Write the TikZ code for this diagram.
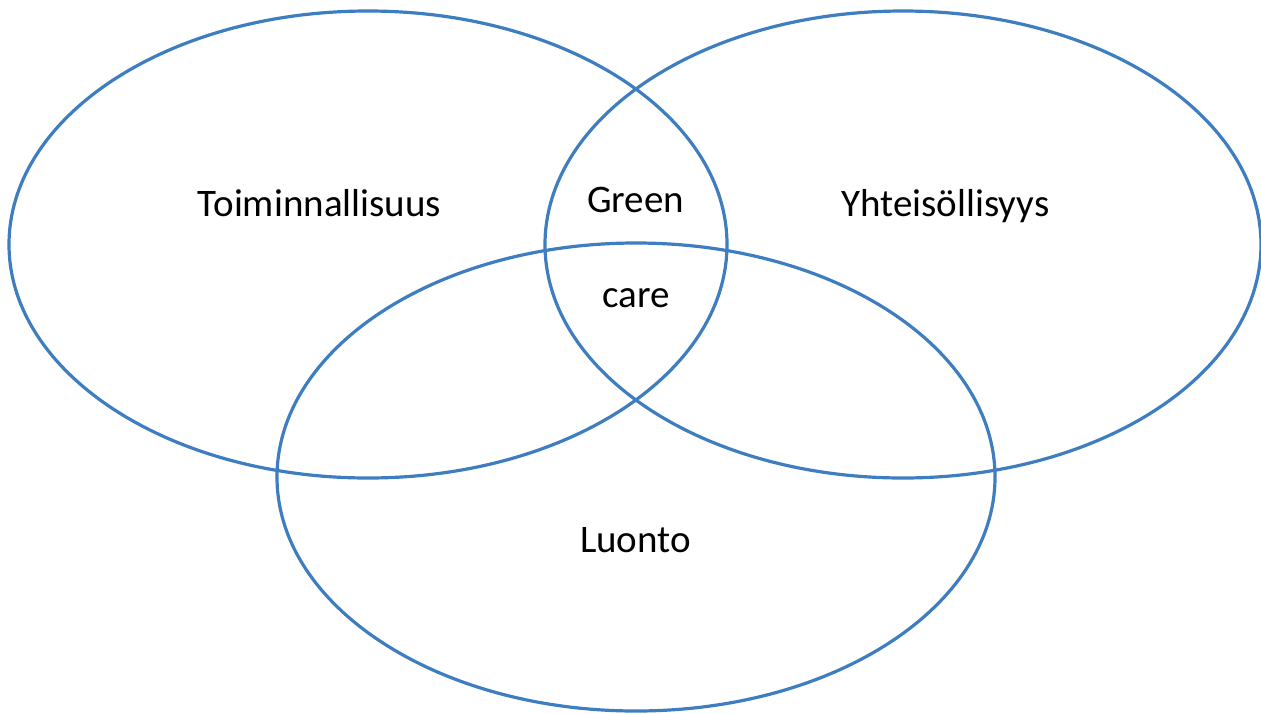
\documentclass[tikz,border=0pt]{standalone}
\usepackage{fontspec}
\setmainfont{Carlito}
\definecolor{vennblue}{RGB}{62,126,192}
\begin{document}
\begin{tikzpicture}[x=1pt,y=-1pt,
  ring/.style={draw=vennblue,line width=3.2pt},
  lbl/.style={anchor=base,inner sep=0pt,font=\fontsize{39}{45}\selectfont}]
\useasboundingbox (0,0) rectangle (1261,713);
\draw[ring] (368,244.5) ellipse [x radius=359, y radius=233.5];
\draw[ring] (903,244.5) ellipse [x radius=358, y radius=233.5];
\draw[ring] (636,477) ellipse [x radius=359, y radius=234];
\node[lbl] (toim) at (319.5,216) {Toiminnallisuus};
\node[lbl] (yht) at (945.5,216) {Yhteisöllisyys};
\node[lbl] (green) at (635.5,212) {Green};
\node[lbl] (care) at (636,307) {care};
\node[lbl] (luonto) at (635.5,552) {Luonto};
\end{tikzpicture}
\end{document}
